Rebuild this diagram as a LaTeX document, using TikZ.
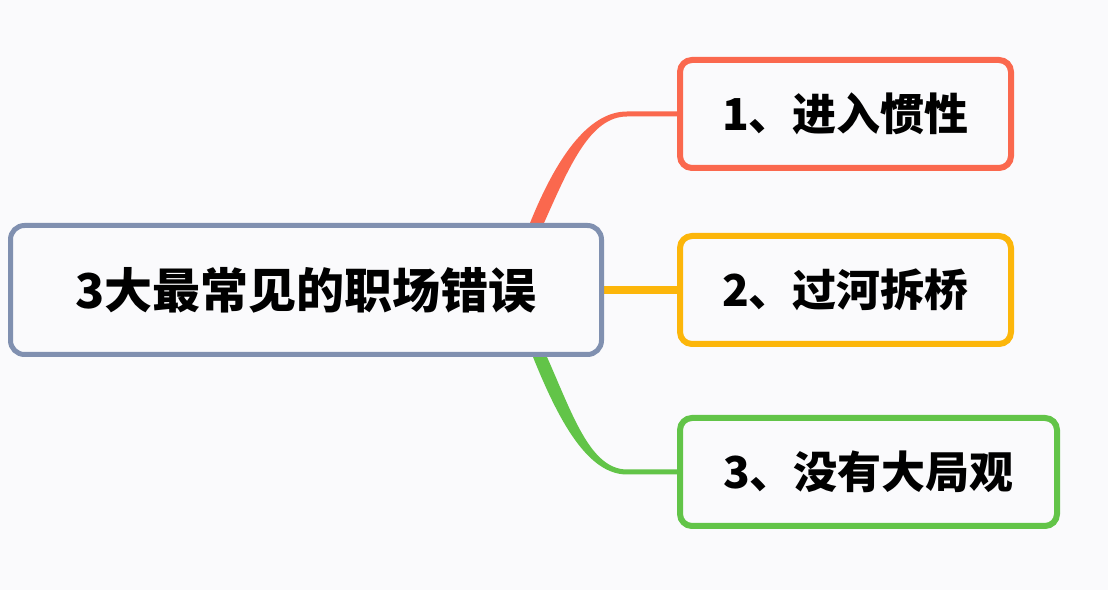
\documentclass[tikz,border=0pt]{standalone}
\usepackage{fontspec}
\newfontfamily\cjk{Noto Sans CJK SC}
\usetikzlibrary{positioning,backgrounds}

\definecolor{bgpaper}{RGB}{250,250,252}
\definecolor{rootline}{RGB}{128,144,176}
\definecolor{redline}{RGB}{250,104,78}
\definecolor{orangeline}{RGB}{252,182,10}
\definecolor{greenline}{RGB}{98,196,72}

\begin{document}
\begin{tikzpicture}[
	node distance=62bp and 73bp,
	topic/.style={rectangle, rounded corners=14bp, draw=rootline, line width=5bp, fill=bgpaper, align=center, minimum width=591bp, minimum height=129bp, font=\cjk\bfseries\fontsize{48bp}{56bp}\selectfont},
	leaf/.style={rectangle, rounded corners=12bp, line width=6bp, fill=bgpaper, minimum width=331bp, minimum height=108bp, font=\cjk\bfseries\fontsize{44bp}{52bp}\selectfont}
]
\useasboundingbox (0,0) rectangle (1108bp,590bp);
\node[topic] (root) at (306bp,300bp) {3大最常见的职场错误};
\node[leaf, draw=orangeline, right=of root] (bridge) {2、过河拆桥};
\node[leaf, draw=redline, above right=62bp and 0bp of bridge.north west] (inert) {1、进入惯性};
\node[leaf, draw=greenline, minimum width=377bp, below right=68bp and 0bp of bridge.south west] (whole) {3、没有大局观};

\begin{pgfonlayer}{background}
\fill[bgpaper] (0,0) rectangle (1108bp,590bp);
% tapered branches
\fill[redline] ([xshift=-74bp]root.north east) .. controls +(25bp,62bp) and +(-40bp,0) .. ([xshift=-50bp,yshift=2.5bp]inert.west)
	-- ([yshift=2.5bp]inert.west) -- ([yshift=-2.5bp]inert.west) -- ([xshift=-50bp,yshift=-2.5bp]inert.west)
	.. controls +(-37bp,0) and +(25bp,56bp) .. ([xshift=-60bp]root.north east) -- cycle;
\fill[greenline] ([xshift=-71bp]root.south east) .. controls +(25bp,-62bp) and +(-40bp,0) .. ([xshift=-50bp,yshift=-2.5bp]whole.west)
	-- ([yshift=-2.5bp]whole.west) -- ([yshift=2.5bp]whole.west) -- ([xshift=-50bp,yshift=2.5bp]whole.west)
	.. controls +(-37bp,0) and +(25bp,-56bp) .. ([xshift=-57bp]root.south east) -- cycle;
\draw[orangeline, line width=8bp] (root.east) -- (bridge.west);
\end{pgfonlayer}
\end{tikzpicture}
\end{document}
